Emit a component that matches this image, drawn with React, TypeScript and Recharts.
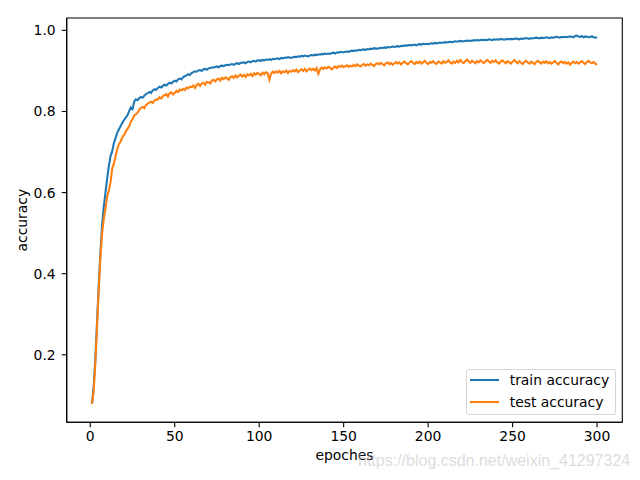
import React from "react";
import { LineChart, Line, XAxis, YAxis, Legend, ReferenceArea } from "recharts";

const trainAcc = [
  0.079, 0.12, 0.19, 0.28, 0.37, 0.45, 0.52, 0.565, 0.6, 0.635,
  0.665, 0.69, 0.702, 0.722, 0.735, 0.748, 0.756, 0.764, 0.772, 0.779,
  0.785, 0.79, 0.801, 0.81, 0.806, 0.824, 0.83, 0.828, 0.833, 0.836,
  0.834, 0.839, 0.843, 0.845, 0.848, 0.846, 0.852, 0.855, 0.853, 0.858,
  0.861, 0.859, 0.863, 0.866, 0.864, 0.868, 0.871, 0.869, 0.873, 0.876,
  0.874, 0.879, 0.881, 0.879, 0.885, 0.887, 0.889, 0.892, 0.89, 0.895,
  0.897, 0.899, 0.898, 0.901, 0.902, 0.9, 0.904, 0.905, 0.903, 0.906,
  0.907, 0.909, 0.908, 0.91, 0.911, 0.909, 0.912, 0.913, 0.912, 0.914,
  0.915, 0.914, 0.916, 0.917, 0.915, 0.918, 0.919, 0.917, 0.92, 0.92,
  0.921, 0.919, 0.922, 0.923, 0.921, 0.924, 0.925, 0.923, 0.926, 0.926,
  0.925, 0.927, 0.926, 0.928, 0.927, 0.929, 0.927, 0.93, 0.929, 0.93,
  0.931, 0.929, 0.932, 0.931, 0.933, 0.932, 0.934, 0.933, 0.932, 0.934,
  0.935, 0.934, 0.936, 0.935, 0.937, 0.936, 0.938, 0.937, 0.936, 0.938,
  0.939, 0.938, 0.94, 0.939, 0.941, 0.94, 0.942, 0.941, 0.943, 0.942,
  0.943, 0.942, 0.944, 0.945, 0.943, 0.946, 0.945, 0.947, 0.946, 0.946,
  0.947, 0.948, 0.947, 0.949, 0.95, 0.949, 0.951, 0.95, 0.952, 0.951,
  0.952, 0.953, 0.952, 0.954, 0.953, 0.955, 0.954, 0.956, 0.955, 0.955,
  0.956, 0.957, 0.956, 0.958, 0.957, 0.959, 0.958, 0.959, 0.96, 0.959,
  0.96, 0.961, 0.96, 0.962, 0.961, 0.963, 0.962, 0.963, 0.964, 0.963,
  0.964, 0.965, 0.963, 0.965, 0.966, 0.965, 0.967, 0.966, 0.967, 0.966,
  0.967, 0.968, 0.967, 0.969, 0.968, 0.969, 0.97, 0.969, 0.97, 0.971,
  0.97, 0.971, 0.972, 0.971, 0.972, 0.973, 0.972, 0.973, 0.974, 0.973,
  0.973, 0.974, 0.975, 0.974, 0.975, 0.974, 0.976, 0.975, 0.976, 0.975,
  0.976, 0.977, 0.976, 0.977, 0.976, 0.978, 0.977, 0.976, 0.978, 0.977,
  0.978, 0.977, 0.979, 0.978, 0.977, 0.978, 0.979, 0.978, 0.979, 0.978,
  0.979, 0.98, 0.979, 0.978, 0.98, 0.979, 0.98, 0.981, 0.98, 0.979,
  0.981, 0.98, 0.981, 0.982, 0.981, 0.98, 0.982, 0.981, 0.982, 0.983,
  0.982, 0.981, 0.983, 0.982, 0.983, 0.984, 0.983, 0.982, 0.984, 0.983,
  0.984, 0.983, 0.984, 0.985, 0.984, 0.983, 0.986, 0.987, 0.985, 0.984,
  0.986, 0.983, 0.985, 0.984, 0.983, 0.984, 0.985, 0.983, 0.982, 0.983,
];

const testAcc = [
  0.079, 0.11, 0.18, 0.27, 0.36, 0.44, 0.5, 0.535, 0.56, 0.59,
  0.605, 0.625, 0.66, 0.672, 0.69, 0.708, 0.72, 0.726, 0.737, 0.742,
  0.75, 0.757, 0.763, 0.775, 0.781, 0.79, 0.793, 0.797, 0.804, 0.809,
  0.811, 0.808, 0.816, 0.819, 0.822, 0.824, 0.821, 0.827, 0.83, 0.829,
  0.835, 0.832, 0.838, 0.84, 0.843, 0.837, 0.845, 0.847, 0.842, 0.846,
  0.851, 0.848, 0.854, 0.852, 0.856, 0.853, 0.859, 0.857, 0.861, 0.86,
  0.864, 0.858, 0.866, 0.868, 0.863, 0.869, 0.871, 0.866, 0.873, 0.872,
  0.869, 0.876, 0.878, 0.874, 0.879, 0.881, 0.876, 0.883, 0.88, 0.884,
  0.882, 0.878, 0.885, 0.887, 0.883, 0.889, 0.884, 0.888, 0.891, 0.886,
  0.89, 0.885, 0.892, 0.889, 0.893, 0.887, 0.894, 0.891, 0.895, 0.893,
  0.889, 0.896, 0.892, 0.897, 0.894, 0.878, 0.893, 0.898, 0.895, 0.899,
  0.896, 0.9, 0.894, 0.899, 0.897, 0.901, 0.895, 0.9, 0.898, 0.902,
  0.899, 0.903, 0.897, 0.901, 0.904, 0.9, 0.905, 0.899, 0.903, 0.906,
  0.902, 0.905, 0.901, 0.907, 0.893, 0.904, 0.908, 0.905, 0.909, 0.906,
  0.91, 0.907, 0.904, 0.909, 0.911, 0.907, 0.912, 0.91, 0.913, 0.909,
  0.912, 0.914, 0.91, 0.913, 0.911, 0.915, 0.912, 0.916, 0.913, 0.911,
  0.915, 0.917, 0.913, 0.916, 0.914, 0.918, 0.915, 0.912, 0.917, 0.919,
  0.916, 0.92, 0.917, 0.914, 0.919, 0.921, 0.917, 0.92, 0.915, 0.919,
  0.922, 0.918, 0.921, 0.916, 0.92, 0.923, 0.919, 0.916, 0.921, 0.924,
  0.92, 0.917, 0.922, 0.919, 0.923, 0.918, 0.921, 0.925, 0.92, 0.917,
  0.922, 0.92, 0.924, 0.919, 0.917, 0.923, 0.921, 0.918, 0.924, 0.92,
  0.922, 0.926, 0.921, 0.918, 0.923, 0.92, 0.925, 0.921, 0.927, 0.922,
  0.919, 0.924, 0.928, 0.923, 0.92, 0.925, 0.922, 0.919, 0.924, 0.921,
  0.926, 0.922, 0.919, 0.924, 0.927, 0.923, 0.92, 0.925, 0.922, 0.926,
  0.921, 0.918, 0.923, 0.926, 0.922, 0.919, 0.924, 0.921, 0.918, 0.923,
  0.927, 0.922, 0.919, 0.924, 0.92, 0.917, 0.922, 0.925, 0.921, 0.918,
  0.923, 0.92, 0.917, 0.922, 0.925, 0.921, 0.918, 0.923, 0.92, 0.924,
  0.919, 0.922, 0.918, 0.921, 0.924, 0.92, 0.916, 0.921, 0.923, 0.919,
  0.922, 0.918, 0.921, 0.915, 0.92, 0.923, 0.919, 0.922, 0.918, 0.921,
  0.924, 0.92, 0.917, 0.922, 0.925, 0.921, 0.919, 0.922, 0.918, 0.915,
];

const epochs = trainAcc.map((_, i) => i + 1);
const xTicks = [0, 50, 100, 150, 200, 250, 300];
const yTicks = [0.2, 0.4, 0.6, 0.8, 1.0];
const xDomain = [-13.95, 314.95];
const yDomain = [0.0335, 1.0305];

const series = [
  { key: "train", name: "train accuracy", color: "#1f77b4" },
  { key: "test", name: "test accuracy", color: "#ff7f0e" },
];

const data = epochs.map((epoch, i) => ({
  epoch,
  train: trainAcc[i],
  test: testAcc[i],
}));

const FONT = "'DejaVu Sans', sans-serif";
const tickStyle = { fill: "#000", fontSize: 13.9, fontFamily: FONT };
const axisStroke = { stroke: "#000", strokeWidth: 1.1 };

function LegendBox() {
  return (
    <div
      style={{
        position: "relative",
        width: 150,
        height: 46,
        boxSizing: "border-box",
        border: "1px solid #d6d6d6",
        borderRadius: 3,
        background: "rgba(255,255,255,0.8)",
        fontFamily: FONT,
        fontSize: 13.9,
        color: "#000",
      }}
    >
      {series.map((s, i) => (
        <div
          key={s.key}
          style={{
            position: "absolute",
            left: 0,
            top: 10 + i * 21.4 - 9,
            height: 18,
            width: 150,
            display: "flex",
            alignItems: "center",
          }}
        >
          <svg width={43} height={18} style={{ flex: "none" }}>
            <line x1={3} x2={32} y1={9} y2={9} stroke={s.color} strokeWidth={2.1} />
          </svg>
          <span style={{ whiteSpace: "nowrap" }}>{s.name}</span>
        </div>
      ))}
    </div>
  );
}

export default function App() {
  return (
    <div style={{ position: "relative", width: 624, height: 464 }}>
      <LineChart
        width={624}
        height={464}
        data={data}
        margin={{ top: 10, right: 9.7, bottom: 19.7, left: 8.7 }}
      >
        <XAxis
          dataKey="epoch"
          type="number"
          domain={xDomain}
          ticks={xTicks}
          allowDataOverflow
          height={30}
          tick={tickStyle}
          tickSize={5}
          tickMargin={4}
          axisLine={axisStroke}
          tickLine={axisStroke}
          label={{
            value: "epoches",
            position: "bottom",
            offset: -2,
            style: { fill: "#000", fontSize: 13.9, fontFamily: FONT },
          }}
        />
        <YAxis
          type="number"
          domain={yDomain}
          ticks={yTicks}
          allowDataOverflow
          width={50}
          tick={tickStyle}
          tickSize={5}
          tickMargin={6}
          tickFormatter={(v: number) => v.toFixed(1)}
          axisLine={axisStroke}
          tickLine={axisStroke}
          label={{
            value: "accuracy",
            angle: -90,
            position: "insideLeft",
            offset: 5.3,
            style: { fill: "#000", fontSize: 13.9, fontFamily: FONT, textAnchor: "middle" },
          }}
        />
        {series.map((s) => (
          <Line
            key={s.key}
            type="linear"
            dataKey={s.key}
            name={s.name}
            stroke={s.color}
            strokeWidth={2.08}
            dot={false}
            activeDot={false}
            isAnimationActive={false}
          />
        ))}
        {/* frame around the plot area, like matplotlib's spines */}
        <ReferenceArea
          x1={xDomain[0]}
          x2={xDomain[1]}
          y1={yDomain[0]}
          y2={yDomain[1]}
          fill="none"
          fillOpacity={0}
          stroke="#000"
          strokeWidth={1.1}
          ifOverflow="visible"
        />
        <Legend
          layout="vertical"
          align="center"
          verticalAlign="middle"
          content={() => <LegendBox />}
          wrapperStyle={{ left: 457.7, top: 361.3, width: 150, height: 46 }}
        />
      </LineChart>
      <span
        style={{
          position: "absolute",
          left: 350,
          top: 444,
          fontFamily: "'Liberation Sans', Arial, sans-serif",
          fontSize: 16,
          color: "rgba(190,190,190,0.55)",
          whiteSpace: "nowrap",
          pointerEvents: "none",
        }}
      >
        https://blog.csdn.net/weixin_41297324
      </span>
    </div>
  );
}
